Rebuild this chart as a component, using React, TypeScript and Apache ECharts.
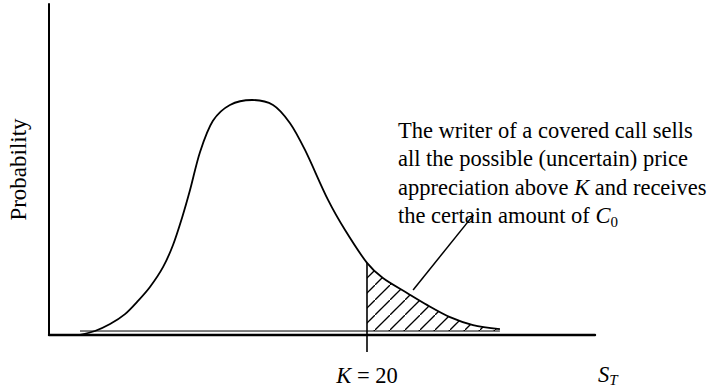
import React, { useEffect, useRef } from "react";
import * as echarts from "echarts";

// Terminal stock price S_T (x) and its probability density (y, arbitrary units)
const price = [1.95, 2.89, 3.84, 4.78, 5.60, 6.35, 7.17, 7.80, 8.36, 8.87, 9.50, 10.31, 11.38, 12.77, 14.09, 15.16, 16.10, 17.55, 18.62, 20.0, 21.0, 22.52, 23.77, 25.22, 26.67, 28.36];
const density = [0, 1.2, 3.3, 6.3, 10.3, 14.5, 20.5, 27.2, 35.3, 43.8, 55.3, 64.7, 69.5, 71.0, 69.5, 64.0, 55.9, 40.8, 31.7, 21.8, 17.2, 12.7, 9.1, 5.4, 3.0, 1.8];

// Strike price and the floor of the shaded tail
const strike = 20;
const tailBase = 1.2;

// Axis ranges
const xMax = 34.34;
const yMax = 100;

// Leader line from the note down into the shaded tail
const pointer = [
  [26.7, 36.3],
  [22.9, 13.6],
];

const noteLines = [
  "The writer of a covered call sells",
  "all the possible (uncertain) price",
  "appreciation above {i|K} and receives",
  "the certain amount of {i|C}{sub|0}",
];

const SERIF = "Liberation Serif";
const FS = 22.5;

function hatchCanvas(): HTMLCanvasElement {
  const c = document.createElement("canvas");
  c.width = 15;
  c.height = 15;
  const ctx = c.getContext("2d")!;
  ctx.strokeStyle = "#000";
  ctx.lineWidth = 1.3;
  ctx.beginPath();
  ctx.moveTo(-2, 17);
  ctx.lineTo(17, -2);
  ctx.stroke();
  return c;
}

export default function App() {
  const ref = useRef<HTMLDivElement>(null);

  useEffect(() => {
    if (!ref.current) return;
    const chart = echarts.init(ref.current, null, { renderer: "svg" });

    const curve = price.map((p, i) => [p, density[i]]);
    const tail = curve.filter((d) => d[0] >= strike);
    const atStrike = density[price.indexOf(strike)];

    chart.setOption({
      animation: false,
      backgroundColor: "#fff",
      textStyle: { fontFamily: SERIF },
      grid: { left: 49, right: 131, top: 4, bottom: 57, outerBoundsMode: "none" },
      xAxis: {
        type: "value",
        min: 0,
        max: xMax,
        splitLine: { show: false },
        axisLine: { show: true, onZero: false, lineStyle: { color: "#000", width: 2.4 } },
        axisTick: {
          show: true,
          customValues: [strike],
          length: 17,
          lineStyle: { color: "#000", width: 1.6 },
        },
        axisLabel: {
          show: true,
          customValues: [strike],
          margin: 28,
          formatter: () => "{i|K} = 20",
          rich: {
            i: { fontFamily: SERIF, fontStyle: "italic", fontSize: FS, color: "#000", lineHeight: 24 },
          },
          fontFamily: SERIF,
          fontSize: FS,
          lineHeight: 24,
          color: "#000",
        },
      },
      yAxis: {
        type: "value",
        min: 0,
        max: yMax,
        splitLine: { show: false },
        axisTick: { show: false },
        axisLabel: { show: false },
        axisLine: { show: true, lineStyle: { color: "#000", width: 2 } },
        name: "Probability",
        nameLocation: "middle",
        nameRotate: 90,
        nameGap: 19,
        nameTextStyle: { fontFamily: SERIF, fontSize: 23, color: "#000" },
      },
      graphic: [
        {
          type: "text",
          left: 398,
          top: 116,
          style: {
            text: noteLines.join("\n"),
            fontFamily: SERIF,
            fontSize: FS,
            lineHeight: 28.4,
            fill: "#000",
            rich: {
              i: { fontFamily: SERIF, fontStyle: "italic", fontSize: FS, lineHeight: 28.4 },
              sub: { fontFamily: SERIF, fontSize: 15, lineHeight: 14, verticalAlign: "bottom" },
            },
          },
        },
        {
          type: "text",
          left: 598,
          top: 363,
          style: {
            text: "{s|S}{t|T}",
            fill: "#000",
            rich: {
              s: { fontFamily: SERIF, fontStyle: "italic", fontSize: FS, lineHeight: 26 },
              t: { fontFamily: SERIF, fontStyle: "italic", fontSize: 15, lineHeight: 12, verticalAlign: "bottom" },
            },
          },
        },
      ],
      series: [
        {
          name: "tail",
          type: "line",
          data: tail,
          smooth: 0.3,
          symbol: "none",
          silent: true,
          lineStyle: { width: 0 },
          areaStyle: {
            color: { image: hatchCanvas(), repeat: "repeat" },
            opacity: 1,
            origin: tailBase,
          },
          z: 1,
        },
        {
          name: "density",
          type: "line",
          data: curve,
          smooth: 0.3,
          symbol: "none",
          silent: true,
          lineStyle: { color: "#000", width: 1.8 },
          z: 3,
        },
        {
          name: "strike",
          type: "line",
          data: [
            [strike, 0],
            [strike, atStrike],
          ],
          symbol: "none",
          silent: true,
          lineStyle: { color: "#000", width: 1.6 },
          z: 3,
        },
        {
          name: "base",
          type: "line",
          data: [
            [price[0], tailBase],
            [price[price.length - 1], tailBase],
          ],
          symbol: "none",
          silent: true,
          lineStyle: { color: "#000", width: 1 },
          z: 3,
        },
        {
          name: "pointer",
          type: "line",
          data: pointer,
          symbol: "none",
          silent: true,
          lineStyle: { color: "#000", width: 1.5 },
          z: 3,
        },
      ],
    });

    return () => chart.dispose();
  }, []);

  return (
    <div
      ref={ref}
      style={{ position: "fixed", left: 0, top: 0, width: 726, height: 392, background: "#fff" }}
    />
  );
}
